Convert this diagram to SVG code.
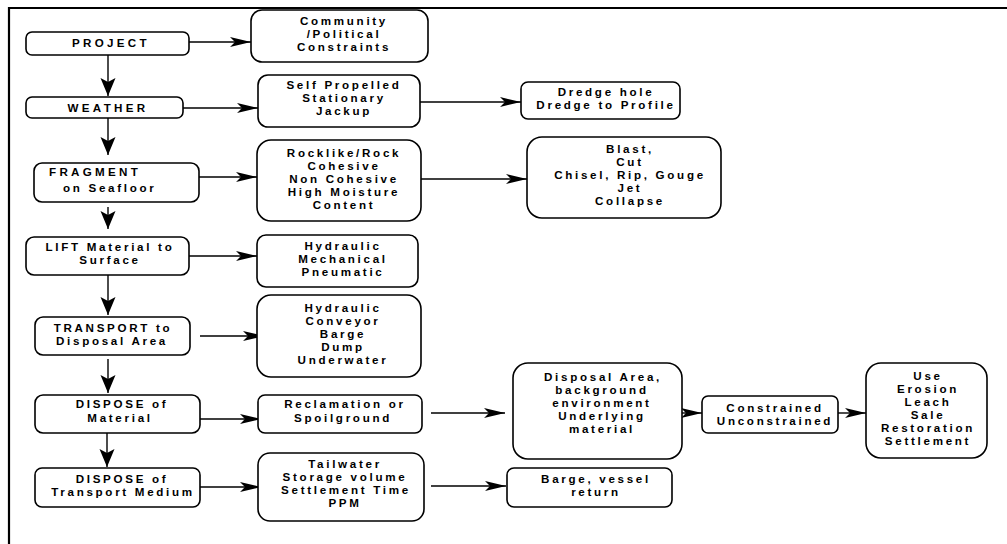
<svg xmlns="http://www.w3.org/2000/svg" width="1007" height="544" viewBox="0 0 1007 544">
<style>
.box{fill:#fff;stroke:#000;stroke-width:1.6}
.t{font-family:"Liberation Sans",Arial,sans-serif;font-weight:bold;font-size:11.6px;letter-spacing:2.7px;fill:#000;text-anchor:middle}
.caps{letter-spacing:3.3px}
.l{text-anchor:start}
.c{stroke:#000;stroke-width:1.4;fill:none}
.h{marker-end:url(#ah)}
.v{marker-end:url(#av)}
</style>
<defs>
<marker id="ah" markerUnits="userSpaceOnUse" markerWidth="24" markerHeight="12" refX="21" refY="5" orient="auto" overflow="visible">
<path d="M0,0 L21,5 L0,10 L5,5 z" fill="#000"/>
</marker>
<marker id="av" markerUnits="userSpaceOnUse" markerWidth="20" markerHeight="18" refX="18" refY="7.5" orient="auto" overflow="visible">
<path d="M0,0 L18,7.5 L0,15 L4,7.5 z" fill="#000"/>
</marker>
</defs>
<g id="frame">
<path d="M9,544 L9,8 L1007,8" fill="none" stroke="#000" stroke-width="2.2"/>
</g>
<g id="connectors">
<line class="c h" x1="189" y1="42" x2="251" y2="42"/>
<line class="c v" x1="108" y1="55" x2="108" y2="96"/>
<line class="c h" x1="183" y1="108" x2="258" y2="108"/>
<line class="c h" x1="420" y1="102" x2="521" y2="102"/>
<line class="c v" x1="108" y1="118" x2="108" y2="155"/>
<line class="c h" x1="199" y1="177" x2="257" y2="177"/>
<line class="c h" x1="421" y1="179" x2="527" y2="179"/>
<line class="c v" x1="108" y1="207" x2="108" y2="229"/>
<line class="c h" x1="189" y1="256" x2="257" y2="256"/>
<line class="c v" x1="108" y1="275" x2="108" y2="315"/>
<line class="c h" x1="200" y1="336" x2="264" y2="336"/>
<line class="c v" x1="108" y1="359" x2="108" y2="393"/>
<line class="c h" x1="200" y1="419" x2="261" y2="419"/>
<line class="c h" x1="431" y1="413" x2="505" y2="413"/>
<line class="c h" x1="676" y1="413" x2="702" y2="413"/>
<line class="c h" x1="838" y1="413" x2="866" y2="413"/>
<line class="c v" x1="107" y1="433" x2="107" y2="467"/>
<line class="c h" x1="200" y1="487" x2="261" y2="487"/>
<line class="c h" x1="431" y1="486" x2="506" y2="486"/>
</g>
<g id="project">
<rect class="box" x="26" y="32" width="163" height="23" rx="6"/>
<text class="t caps" x="111" y="47">PROJECT</text>
</g>
<g id="community">
<rect class="box" x="251" y="10" width="177" height="52" rx="11"/>
<text class="t" x="344" y="25">Community</text>
<text class="t" x="344" y="38">/Political</text>
<text class="t" x="344" y="51">Constraints</text>
</g>
<g id="weather">
<rect class="box" x="26" y="97" width="157" height="21" rx="6"/>
<text class="t caps" x="108" y="112">WEATHER</text>
</g>
<g id="vessel">
<rect class="box" x="258" y="75" width="162" height="52" rx="10"/>
<text class="t" x="344" y="89">Self Propelled</text>
<text class="t" x="344" y="102">Stationary</text>
<text class="t" x="344" y="115">Jackup</text>
</g>
<g id="dredge">
<rect class="box" x="521" y="82" width="159" height="37" rx="7"/>
<text class="t" x="606" y="95.5">Dredge hole</text>
<text class="t" x="606" y="108.5">Dredge to Profile</text>
</g>
<g id="fragment">
<rect class="box" x="34" y="163" width="165" height="39" rx="8"/>
<text class="t caps l" x="49" y="176">FRAGMENT</text>
<text class="t l" x="63" y="192">on Seafloor</text>
</g>
<g id="material">
<rect class="box" x="257" y="140" width="164" height="81" rx="14"/>
<text class="t" x="344" y="157">Rocklike/Rock</text>
<text class="t" x="344" y="170">Cohesive</text>
<text class="t" x="344" y="183">Non Cohesive</text>
<text class="t" x="344" y="196">High Moisture</text>
<text class="t" x="344" y="209">Content</text>
</g>
<g id="fragment-methods">
<rect class="box" x="527" y="137" width="194" height="81" rx="15"/>
<text class="t" x="630" y="153">Blast,</text>
<text class="t" x="630" y="166">Cut</text>
<text class="t" x="630" y="179">Chisel, Rip, Gouge</text>
<text class="t" x="630" y="192">Jet</text>
<text class="t" x="630" y="205">Collapse</text>
</g>
<g id="lift">
<rect class="box" x="26" y="237" width="163" height="38" rx="8"/>
<text class="t" x="110" y="251">LIFT Material to</text>
<text class="t" x="110" y="264">Surface</text>
</g>
<g id="lift-methods">
<rect class="box" x="257" y="235" width="161" height="52" rx="9"/>
<text class="t" x="343" y="249.5">Hydraulic</text>
<text class="t" x="343" y="262.5">Mechanical</text>
<text class="t" x="343" y="275.5">Pneumatic</text>
</g>
<g id="transport">
<rect class="box" x="35" y="317" width="155" height="38" rx="8"/>
<text class="t" x="113" y="332">TRANSPORT to</text>
<text class="t" x="112" y="345">Disposal Area</text>
</g>
<g id="transport-methods">
<rect class="box" x="257" y="295" width="164" height="82" rx="14"/>
<text class="t" x="343" y="312">Hydraulic</text>
<text class="t" x="343" y="325">Conveyor</text>
<text class="t" x="343" y="338">Barge</text>
<text class="t" x="343" y="351">Dump</text>
<text class="t" x="343" y="364">Underwater</text>
</g>
<g id="dispose-material">
<rect class="box" x="35" y="395" width="165" height="38" rx="8"/>
<text class="t" x="122" y="408">DISPOSE of</text>
<text class="t" x="120" y="422">Material</text>
</g>
<g id="reclamation">
<rect class="box" x="258" y="395" width="164" height="38" rx="7"/>
<text class="t" x="345" y="408">Reclamation or</text>
<text class="t" x="343" y="422">Spoilground</text>
</g>
<g id="disposal-area">
<rect class="box" x="513" y="363" width="169" height="96" rx="15"/>
<text class="t" x="603" y="381">Disposal Area,</text>
<text class="t" x="602" y="394">background</text>
<text class="t" x="602" y="407">environment</text>
<text class="t" x="602" y="420">Underlying</text>
<text class="t" x="602" y="433">material</text>
</g>
<g id="constrained">
<rect class="box" x="702" y="396" width="136" height="37" rx="6"/>
<text class="t" x="775" y="411.5">Constrained</text>
<text class="t" x="775" y="424.5">Unconstrained</text>
</g>
<g id="outcomes">
<rect class="box" x="866" y="363" width="121" height="95" rx="15"/>
<text class="t" x="928" y="380">Use</text>
<text class="t" x="928" y="393">Erosion</text>
<text class="t" x="928" y="406">Leach</text>
<text class="t" x="928" y="419">Sale</text>
<text class="t" x="928" y="432">Restoration</text>
<text class="t" x="928" y="445">Settlement</text>
</g>
<g id="dispose-medium">
<rect class="box" x="35" y="468" width="165" height="39" rx="7"/>
<text class="t" x="122" y="482.5">DISPOSE of</text>
<text class="t" x="123" y="495.5">Transport Medium</text>
</g>
<g id="tailwater">
<rect class="box" x="258" y="453" width="166" height="68" rx="12"/>
<text class="t" x="345" y="468">Tailwater</text>
<text class="t" x="345" y="481">Storage volume</text>
<text class="t" x="346" y="494">Settlement Time</text>
<text class="t" x="345" y="507">PPM</text>
</g>
<g id="barge">
<rect class="box" x="507" y="468" width="165" height="39" rx="7"/>
<text class="t" x="596" y="482.5">Barge, vessel</text>
<text class="t" x="596" y="495.5">return</text>
</g>
</svg>
